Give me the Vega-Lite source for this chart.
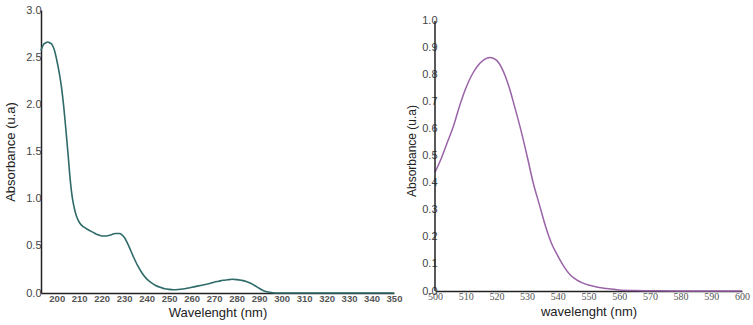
{
  "$schema": "https://vega.github.io/schema/vega-lite/v6.json",
  "padding": {"left": 4, "top": 4, "right": 0, "bottom": 0},
  "background": "white",
  "spacing": 3,
  "config": {
    "view": {"stroke": null},
    "axis": {
      "domainColor": "#222",
      "domainWidth": 1.5,
      "ticks": false,
      "grid": false,
      "labelFlush": false,
      "labelFont": "Liberation Sans",
      "labelColor": "#444",
      "labelFontSize": 11,
      "titleFont": "Liberation Sans",
      "titleFontWeight": "normal",
      "titleColor": "#222",
      "titleFontSize": 13
    }
  },
  "datasets": {
    "uv": [
      {"wl":193,"abs":2.57},{"wl":194,"abs":2.63},{"wl":195,"abs":2.65},{"wl":196,"abs":2.66},{"wl":197,"abs":2.65},{"wl":198,"abs":2.63},{"wl":199,"abs":2.57},{"wl":200,"abs":2.47},{"wl":201,"abs":2.35},{"wl":202,"abs":2.2},{"wl":203,"abs":2.0},{"wl":204,"abs":1.75},{"wl":205,"abs":1.48},{"wl":206,"abs":1.2},{"wl":207,"abs":1.0},{"wl":208,"abs":0.88},{"wl":209,"abs":0.8},{"wl":210,"abs":0.75},{"wl":212,"abs":0.7},{"wl":214,"abs":0.67},{"wl":216,"abs":0.645},{"wl":218,"abs":0.62},{"wl":220,"abs":0.605},{"wl":222,"abs":0.605},{"wl":224,"abs":0.615},{"wl":226,"abs":0.63},{"wl":228,"abs":0.63},{"wl":229,"abs":0.615},{"wl":230,"abs":0.59},{"wl":231,"abs":0.55},{"wl":232,"abs":0.5},{"wl":234,"abs":0.39},{"wl":236,"abs":0.29},{"wl":238,"abs":0.21},{"wl":240,"abs":0.15},{"wl":242,"abs":0.11},{"wl":244,"abs":0.08},{"wl":246,"abs":0.06},{"wl":248,"abs":0.045},{"wl":250,"abs":0.038},{"wl":252,"abs":0.035},{"wl":254,"abs":0.037},{"wl":256,"abs":0.042},{"wl":258,"abs":0.05},{"wl":260,"abs":0.06},{"wl":262,"abs":0.07},{"wl":264,"abs":0.08},{"wl":266,"abs":0.09},{"wl":268,"abs":0.1},{"wl":270,"abs":0.115},{"wl":272,"abs":0.125},{"wl":274,"abs":0.135},{"wl":276,"abs":0.14},{"wl":278,"abs":0.145},{"wl":280,"abs":0.142},{"wl":282,"abs":0.135},{"wl":284,"abs":0.125},{"wl":286,"abs":0.105},{"wl":288,"abs":0.08},{"wl":290,"abs":0.05},{"wl":292,"abs":0.025},{"wl":294,"abs":0.01},{"wl":296,"abs":0.003},{"wl":298,"abs":0.0},{"wl":300,"abs":0.0},{"wl":310,"abs":0.0},{"wl":320,"abs":0.0},{"wl":330,"abs":0.0},{"wl":340,"abs":0.0},{"wl":350,"abs":0.0}
    ],
    "vis": [
      {"wl":500,"abs":0.44},{"wl":502,"abs":0.49},{"wl":504,"abs":0.55},{"wl":506,"abs":0.61},{"wl":508,"abs":0.685},{"wl":510,"abs":0.75},{"wl":512,"abs":0.8},{"wl":514,"abs":0.835},{"wl":516,"abs":0.857},{"wl":518,"abs":0.865},{"wl":520,"abs":0.855},{"wl":522,"abs":0.82},{"wl":524,"abs":0.76},{"wl":526,"abs":0.68},{"wl":528,"abs":0.595},{"wl":530,"abs":0.5},{"wl":532,"abs":0.4},{"wl":534,"abs":0.32},{"wl":536,"abs":0.24},{"wl":538,"abs":0.175},{"wl":540,"abs":0.13},{"wl":542,"abs":0.09},{"wl":544,"abs":0.06},{"wl":546,"abs":0.042},{"wl":548,"abs":0.03},{"wl":550,"abs":0.022},{"wl":553,"abs":0.014},{"wl":556,"abs":0.009},{"wl":560,"abs":0.004},{"wl":565,"abs":0.002},{"wl":570,"abs":0.001},{"wl":580,"abs":0.0},{"wl":590,"abs":0.0},{"wl":600,"abs":0.0}
    ]
  },
  "hconcat": [
    {
      "width": 353,
      "height": 283,
      "data": {"name": "uv"},
      "mark": {"type": "line", "color": "#2f6a6a", "strokeWidth": 1.6, "interpolate": "monotone"},
      "encoding": {
        "x": {"field": "wl", "type": "quantitative", "title": "Wavelenght (nm)",
              "scale": {"domain": [193, 350], "nice": false, "zero": false},
              "axis": {"values": [200,210,220,230,240,250,260,270,280,290,300,310,320,330,340,350], "labelOverlap": false, "labelPadding": 0, "titlePadding": 4, "labelFontSize": 9.5, "labelFontWeight": "bold", "labelColor": "#555"}},
        "y": {"field": "abs", "type": "quantitative", "title": "Absorbance (u.a)",
              "scale": {"domain": [0, 3], "nice": false},
              "axis": {"values": [0,0.5,1,1.5,2,2.5,3], "format": ".1f", "labelPadding": 0, "titlePadding": 8}}
      }
    },
    {
      "width": 307,
      "height": 281,
      "layer": [
        {
          "data": {"name": "vis"},
          "mark": {"type": "line", "color": "#9a63a8", "strokeWidth": 1.5, "interpolate": "monotone"},
          "encoding": {
            "x": {"field": "wl", "type": "quantitative", "title": "wavelenght (nm)",
                  "scale": {"domain": [500, 600], "nice": false, "zero": false},
                  "axis": {"values": [500,510,520,530,540,550,560,570,580,590,600], "labelOverlap": false, "labelPadding": 0, "titlePadding": 4, "labelFont": "Liberation Serif", "labelFontSize": 10, "labelColor": "#555"}},
            "y": {"field": "abs", "type": "quantitative", "title": "Absorbance (u.a)",
                  "scale": {"domain": [0, 1.0407], "nice": false},
                  "axis": {"values": [0,0.1,0.2,0.3,0.4,0.5,0.6,0.7,0.8,0.9,1], "labelOverlap": false, "format": ".1f", "labelPadding": -2, "titlePadding": 3, "titleFontSize": 12, "domain": false}}
          }
        },
        {
          "data": {"values": [{"axis": "y"}]},
          "mark": {"type": "rule", "color": "#222", "strokeWidth": 1.5},
          "encoding": {
            "x": {"datum": 500, "type": "quantitative", "title": "wavelenght (nm)",
                  "axis": {"values": [500,510,520,530,540,550,560,570,580,590,600], "labelOverlap": false, "labelPadding": 0, "titlePadding": 4, "labelFont": "Liberation Serif", "labelFontSize": 10, "labelColor": "#555"}},
            "y": {"datum": 0, "type": "quantitative", "title": "Absorbance (u.a)",
                  "axis": {"values": [0,0.1,0.2,0.3,0.4,0.5,0.6,0.7,0.8,0.9,1], "labelOverlap": false, "format": ".1f", "labelPadding": -2, "titlePadding": 3, "titleFontSize": 12, "domain": false}},
            "y2": {"datum": 1}
          }
        }
      ]
    }
  ]
}
